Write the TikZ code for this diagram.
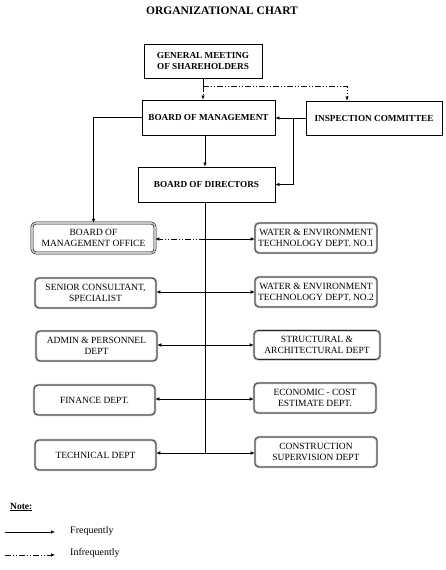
\documentclass[tikz,border=0pt]{standalone}
\usepackage{fontspec}
\setmainfont{Liberation Serif}
\usetikzlibrary{arrows.meta}
\tikzset{
  freq/.style={line width=0.6pt,-{Latex[length=4pt,width=3.5pt]}},
  infreq/.style={freq,dash pattern=on 6pt off 2pt on 1pt off 2pt on 1pt off 2pt},
  plainline/.style={line width=0.6pt},
  headbox/.style={draw,line width=0.8pt,font=\bfseries\fontsize{9.2}{11.5}\selectfont,align=center,inner sep=0pt},
  boxtext/.style={font=\fontsize{9.5}{10.5}\selectfont,align=center,inner sep=0pt,rounded corners=4pt},
  deptbox/.style={boxtext,draw=black!85,line width=0.6pt,preaction={draw=gray!55,line width=2.4pt}},
  officebox/.style={boxtext,draw=black,line width=0.5pt,double=gray!45,double distance=1.6pt},
}
\begin{document}
\begin{tikzpicture}[x=1pt,y=-1pt]
  \useasboundingbox (0,0) rectangle (446,570);
  \node[font=\bfseries\fontsize{11.5}{13}\selectfont] (title) at (222,11) {ORGANIZATIONAL CHART};
  % Top
  \node[headbox,minimum width=118pt,minimum height=34pt] (gms) at (203,61) {GENERAL MEETING\\OF SHAREHOLDERS};
  \node[headbox,minimum width=133pt,minimum height=35pt] (bom) at (208.5,117.5) {BOARD OF MANAGEMENT};
  \node[headbox,minimum width=136pt,minimum height=34pt] (insp) at (374,118) {INSPECTION COMMITTEE};
  \node[headbox,minimum width=137pt,minimum height=35pt] (bod) at (206.5,184.5) {BOARD OF DIRECTORS};
  \coordinate (split) at (203,86);
  \coordinate (insptop) at (347,86);
  \coordinate (tap) at (293,118);
  \coordinate (spine) at (205,0);
  \draw[plainline] (gms.south) -- (split);
  \draw[infreq] (split) -- (split |- bom.north);
  \draw[infreq] (split) -- (insptop) -- (insptop |- insp.north);
  \draw[freq] (insp.west) -- (insp.west -| bom.east);
  \draw[freq] (tap) |- (bod.east);
  \draw[freq] (bom.south -| spine) -- (bod.north -| spine);
  % Left
  \node[officebox,minimum width=123pt,minimum height=30pt] (bmo) at (93.5,238) {BOARD OF\\MANAGEMENT OFFICE};
  \node[deptbox,minimum width=121pt,minimum height=30pt] (senior) at (95.5,293) {SENIOR CONSULTANT,\\SPECIALIST};
  \node[deptbox,minimum width=121pt,minimum height=30pt] (admin) at (96.5,346) {ADMIN \& PERSONNEL\\DEPT};
  \node[deptbox,minimum width=121pt,minimum height=30pt] (finance) at (94.5,400) {FINANCE DEPT.};
  \node[deptbox,minimum width=121pt,minimum height=30pt] (technical) at (95.5,455) {TECHNICAL DEPT};
  \draw[freq] (bom.west) -| (bmo.north);
  % Right
  \node[deptbox,minimum width=122pt,minimum height=30pt] (wet1) at (316,238) {WATER \& ENVIRONMENT\\TECHNOLOGY DEPT. NO.1};
  \node[deptbox,minimum width=122pt,minimum height=30pt] (wet2) at (316,292) {WATER \& ENVIRONMENT\\TECHNOLOGY DEPT. NO.2};
  \node[deptbox,minimum width=126pt,minimum height=29pt] (struct) at (317,345) {STRUCTURAL \&\\ARCHITECTURAL DEPT};
  \node[deptbox,minimum width=122pt,minimum height=30pt] (econ) at (315,398) {ECONOMIC - COST\\ESTIMATE DEPT.};
  \node[deptbox,minimum width=122pt,minimum height=30pt] (constr) at (316,452) {CONSTRUCTION\\SUPERVISION DEPT};
  % Spine
  \coordinate (j1) at (205,239);
  \coordinate (j2) at (205,292);
  \coordinate (j3) at (205,345);
  \coordinate (j4) at (205,399);
  \coordinate (j5) at (205,453);
  \draw[plainline] (bod.south -| spine) -- (j5);
  \draw[infreq] (j1) -- (bmo.east |- j1);
  \draw[freq] (j1) -- (wet1.west |- j1);
  \draw[freq] (j2) -- (senior.east |- j2);
  \draw[freq] (j2) -- (wet2.west |- j2);
  \draw[freq] (j3) -- (admin.east |- j3);
  \draw[freq] (j3) -- (struct.west |- j3);
  \draw[freq] (j4) -- (finance.east |- j4);
  \draw[freq] (j4) -- (econ.west |- j4);
  \draw[freq] (j5) -- (technical.east |- j5);
  \draw[freq] (j5) -- (constr.west |- j5);
  % Note
  \node[anchor=west,font=\bfseries\fontsize{9.5}{11}\selectfont,inner sep=0pt] (note) at (10,507) {\underline{Note:}};
  \coordinate (f0) at (5,532);
  \coordinate (f1) at (55,532);
  \coordinate (i0) at (5,555);
  \coordinate (i1) at (55,555);
  \draw[freq] (f0) -- (f1);
  \draw[infreq] (i0) -- (i1);
  \node[anchor=west,font=\fontsize{10}{11}\selectfont,inner sep=0pt] (frequently) at (70,531) {Frequently};
  \node[anchor=west,font=\fontsize{10}{11}\selectfont,inner sep=0pt] (infrequently) at (70,553) {Infrequently};
\end{tikzpicture}
\end{document}
